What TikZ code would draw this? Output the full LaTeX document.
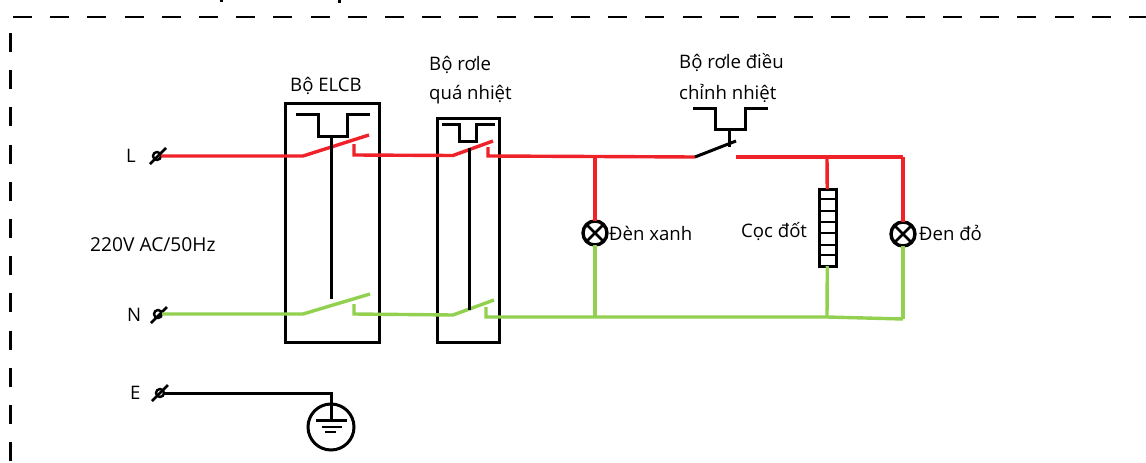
\documentclass[tikz,border=0pt]{standalone}
\usepackage{fontspec}
\setmainfont{Open Sans}
\usepackage{tikz}
\usetikzlibrary{positioning}
\definecolor{wirered}{RGB}{238,34,40}
\definecolor{wiregreen}{RGB}{146,208,80}

\begin{document}
\begin{tikzpicture}[
  x=1pt,y=-1pt,
  line join=miter,
  redwire/.style={wirered,line width=3.4pt},
  greenwire/.style={wiregreen,line width=3.4pt},
  blackwire/.style={black,line width=3pt},
  framedash/.style={black,line width=2.6pt,dash pattern=on 19pt off 18.2pt},
  devbox/.style={draw,line width=3pt,inner sep=0pt,outer sep=0pt},
  termnode/.style={draw,circle,line width=2.4pt,minimum size=8pt,inner sep=0pt,outer sep=0pt},
  lampnode/.style={draw,circle,line width=3.4pt,minimum size=24pt,inner sep=0pt,outer sep=0pt,
    path picture={
      \draw[line width=2.6pt] (path picture bounding box.north west) -- (path picture bounding box.south east);
      \draw[line width=2.6pt] (path picture bounding box.north east) -- (path picture bounding box.south west);
    }},
  txt/.style={inner sep=0pt,font=\fontsize{18.6}{20}\selectfont,anchor=west}
]
\useasboundingbox (0,0) rectangle (1146,463);

% frame
\draw[framedash] (13,17) -- (1146,17);
\draw[framedash] (10.5,33) -- (10.5,463);
\draw[line width=3pt] (221,0) -- (221,2);
\draw[line width=3pt] (339,0) -- (339,3);

% terminals
\node[termnode] (tl) at (157,156) {};
\node[termnode] (tn) at (158,314) {};
\node[termnode] (te) at (160,393) {};
\draw[line width=2.6pt] (150,164) -- (166,148);
\draw[line width=2.6pt] (151,323) -- (167,307);
\draw[line width=2.6pt] (152,401) -- (168,385);

\node[txt] (ll) at (126,156) {L};
\node[txt] (ln) at (127,315) {N};
\node[txt] (le) at (130,393) {E};
\node[txt,font=\fontsize{19.2}{20}\selectfont] (lv) at (90,245) {220V AC/50Hz};

% devices
\node[devbox,minimum width=94pt,minimum height=239pt] (elcb) at (332,222.5) {};
\node[devbox,minimum width=62pt,minimum height=224pt] (ovl) at (468.5,230) {};
\node[txt,anchor=center] (lelcb) at (326,86) {Bộ ELCB};
\node[txt] (lovl1) at (429,65) {Bộ rơle};
\node[txt] (lovl2) at (429,95) {quá nhiệt};
\node[txt] (lreg1) at (679,63) {Bộ rơle điều};
\node[txt] (lreg2) at (679,93) {chỉnh nhiệt};

% line conductor
\coordinate (a1) at (303,156);
\coordinate (a2) at (369,135);
\coordinate (a3) at (354,144);
\coordinate (a4) at (354,155);
\coordinate (b1) at (453,155.5);
\coordinate (b2) at (493,141);
\coordinate (b3) at (488,147);
\coordinate (b4) at (488,156);
\coordinate (j1) at (595,156.5);
\coordinate (c1) at (695,157);
\coordinate (c2) at (736,141);
\coordinate (c3) at (736,157);
\coordinate (j2) at (827,157);
\coordinate (j3) at (903,157);

\draw[redwire] (tl) -- (a1) -- (a2);
\draw[redwire] (a3) -- (a4) -- (b1) -- (b2);
\draw[redwire] (b3) -- (b4) -- (j1) -- (c1);
\draw[redwire] (c3) -- (j2) -- (j3);
\draw[blackwire] (c1) -- (c2);

% neutral conductor
\coordinate (d1) at (303,314);
\coordinate (d2) at (370,294);
\coordinate (d3) at (354,304);
\coordinate (d4) at (354,314);
\coordinate (e1) at (453,315);
\coordinate (e2) at (494,300);
\coordinate (e3) at (486,307);
\coordinate (e4) at (486,317);
\coordinate (k1) at (595,317);
\coordinate (k2) at (827,317);
\coordinate (k3) at (903,319);

\draw[greenwire] (tn) -- (d1) -- (d2);
\draw[greenwire] (d3) -- (d4) -- (e1) -- (e2);
\draw[greenwire] (e3) -- (e4) -- (k1) -- (k2) -- (k3);

% lamps
\node[lampnode] (lamp1) at (595,233) {};
\node[lampnode] (lamp2) at (903,234) {};
\node[txt] (llamp1) at (609,233) {Đèn xanh};
\node[txt] (llamp2) at (919,233) {Đen đỏ};
\draw[redwire] (j1) -- (lamp1);
\draw[greenwire] (lamp1) -- (k1);
\draw[redwire] (j3) -- (lamp2);
\draw[greenwire] (lamp2) -- (k3);

% heater
\node[devbox,minimum width=17pt,minimum height=77pt] (heat) at (827.5,227.5) {};
\foreach \y in {199,211,222,233,245,255}
  \draw[line width=2.4pt] (819,\y) -- (836,\y);
\node[txt] (lheat) at (741,232) {Cọc đốt};
\draw[redwire] (j2) -- (heat);
\draw[greenwire] (heat) -- (k2);

% actuators
\draw[blackwire] (296,114) -- (318,114) -- (318,136) -- (347,136) -- (347,114) -- (370,114);
\draw[blackwire] (331,136) -- (331,299);
\draw[blackwire] (442,124) -- (459,124) -- (459,141) -- (476,141) -- (476,124) -- (495,124);
\draw[blackwire] (469,148) -- (469,310);
\draw[blackwire] (693,108) -- (715,108) -- (715,129) -- (745,129) -- (745,108) -- (768,108);
\draw[blackwire] (729,129) -- (729,147);

% earth
\node[draw,circle,line width=3pt,minimum size=46pt,inner sep=0pt,outer sep=0pt] (gnd) at (331,427) {};
\coordinate (g1) at (331,393);
\coordinate (g2) at (331,420);
\draw[blackwire] (te) -- (g1) -- (g2);
\draw[blackwire] (316,420) -- (347,420);
\draw[line width=2.4pt] (322,427) -- (342,427);
\draw[line width=2.4pt] (325,432) -- (336,432);

\end{tikzpicture}
\end{document}
